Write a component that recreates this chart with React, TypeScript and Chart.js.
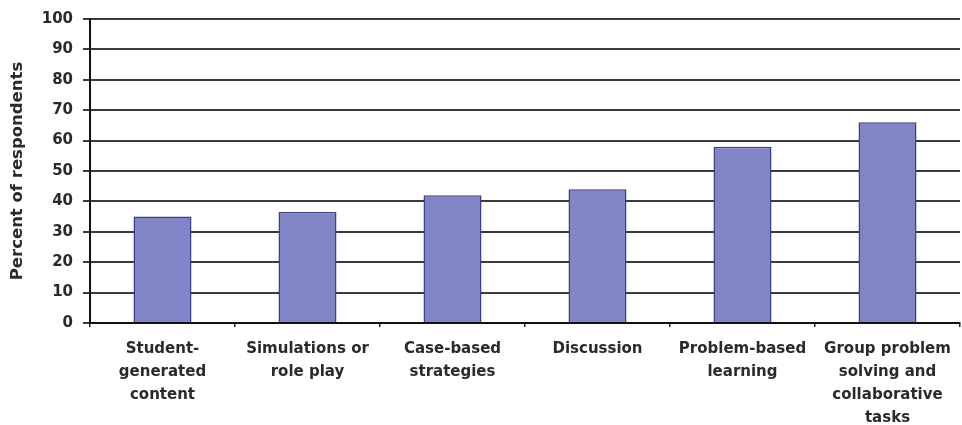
import React, { useEffect, useRef } from "react";
import { Chart, registerables } from "chart.js";

Chart.register(...registerables);

const categories: string[][] = [
  ["Student-", "generated", "content"],
  ["Simulations or", "role play"],
  ["Case-based", "strategies"],
  ["Discussion"],
  ["Problem-based", "learning"],
  ["Group problem", "solving and", "collaborative", "tasks"],
];
const percentValues: number[] = [35, 36.5, 42, 44, 58, 66];
const yTitle = "Percent of respondents";

const FONT = "'DejaVu Sans', 'Liberation Sans', Arial, sans-serif";

export default function App() {
  const ref = useRef<HTMLCanvasElement | null>(null);
  useEffect(() => {
    document.body.style.margin = "0";
    const ctx = ref.current!;
    const chart = new Chart(ctx, {
      type: "bar",
      data: {
        labels: categories,
        datasets: [
          {
            data: percentValues,
            backgroundColor: "#7f85c5",
            borderColor: "#3c3f8c",
            borderWidth: 1.5,
            categoryPercentage: 0.4,
            barPercentage: 1,
          },
        ],
      },
      options: {
        animation: false,
        responsive: false,
        maintainAspectRatio: false,
        layout: { padding: { top: 19, right: 2, left: 0, bottom: 0 } },
        plugins: { legend: { display: false }, tooltip: { enabled: false } },
        scales: {
          x: {
            grid: {
              offset: true,
              drawOnChartArea: false,
              drawTicks: true,
              tickLength: 4,
              color: "#222",
              lineWidth: 1.5,
            },
            border: { color: "#111", width: 2 },
            ticks: {
              color: "#2a2a2a",
              font: { family: FONT, size: 15, weight: "bold", lineHeight: 1.55 },
              padding: 10,
              maxRotation: 0,
              autoSkip: false,
            },
            afterFit: (s: any) => {
              s.height = 102;
            },
          },
          y: {
            min: 0,
            max: 100,
            ticks: {
              stepSize: 10,
              color: "#2a2a2a",
              font: { family: FONT, size: 15, weight: "bold" },
              padding: 10,
            },
            grid: {
              color: "#3a3a3a",
              lineWidth: 2,
              tickLength: 7,
            },
            border: { color: "#111", width: 2 },
            title: {
              display: true,
              text: yTitle,
              color: "#2a2a2a",
              font: { family: FONT, size: 16.5, weight: "bold" },
              padding: { top: 8, bottom: 0 },
            },
            afterFit: (s: any) => {
              s.width = 90;
            },
          },
        },
      },
    });
    return () => chart.destroy();
  }, []);
  return (
    <div style={{ position: "absolute", left: 0, top: 0, width: 962, height: 425, background: "#fff" }}>
      <canvas ref={ref} width={962} height={425} style={{ width: 962, height: 425 }} />
    </div>
  );
}
